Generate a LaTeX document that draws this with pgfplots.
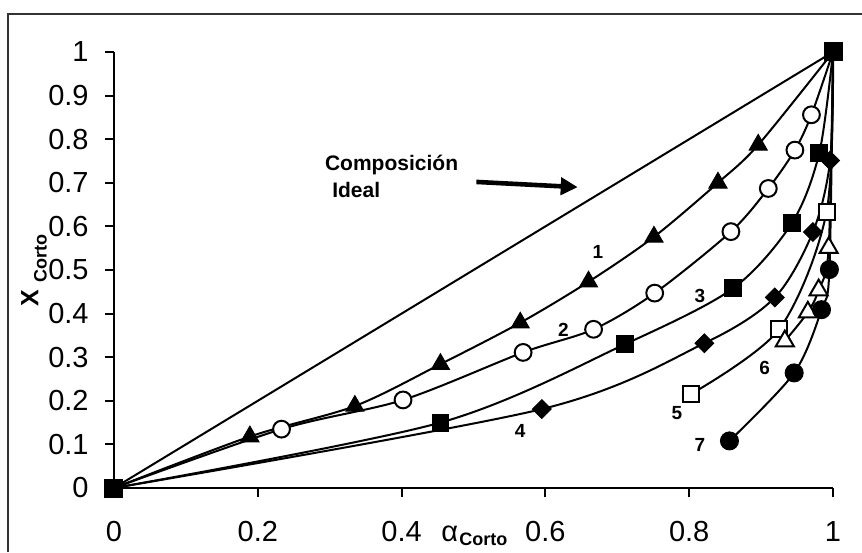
\documentclass[border=0pt]{standalone}
\usepackage{pgfplots}
\pgfplotsset{compat=1.18}
\usepackage{fontspec}
\setmainfont{Liberation Sans}
\usetikzlibrary{arrows.meta}
\begin{document}
\begin{tikzpicture}[x=1pt,y=1pt]
\path[use as bounding box] (0,0) rectangle (431,276);
\draw[line width=0.8pt, black!80] (4,0) -- (4,269) -- (431,269);
\begin{axis}[
  at={(57pt,32pt)}, anchor=south west,
  scale only axis, width=359.5pt, height=218pt,
  xmin=0, xmax=1, ymin=0, ymax=1,
  clip=false,
  axis lines*=left,
  axis line style={line width=1pt, black},
  tick style={line width=1pt, black},
  tick align=outside,
  major tick length=4.5pt,
  xtick={0,0.2,0.4,0.6,0.8,1},
  ytick={0,0.1,0.2,0.3,0.4,0.5,0.6,0.7,0.8,0.9,1},
  /pgf/number format/assume math mode=true,
  /pgf/number format/fixed,
  tick label style={font=\fontsize{14.5}{16}\selectfont},
  yticklabel style={anchor=east, inner sep=0pt, xshift=-8pt},
  xticklabel style={anchor=north, inner sep=0pt, yshift=-12pt},
  every axis plot/.append style={line width=1pt, black, smooth},
]
% Ideal line
\addplot[no markers, sharp plot] coordinates {(0,0)(1,1)};
% 1
\addplot[mark=triangle*, mark size=5.2pt, mark options={fill=black, line width=0.5pt},
  mark indices={2,3,4,5,6,7,8,9}] coordinates {
(0,0)(0.189,0.118)(0.335,0.188)(0.454,0.284)(0.565,0.379)(0.660,0.473)(0.751,0.576)(0.840,0.700)(0.896,0.787)(1,1)};
% 2
\addplot[mark=*, mark size=4.2pt, mark options={fill=white, line width=1pt},
  mark indices={2,3,4,5,6,7,8,9,10}] coordinates {
(0,0)(0.233,0.135)(0.402,0.202)(0.569,0.311)(0.667,0.364)(0.752,0.447)(0.858,0.588)(0.910,0.687)(0.947,0.775)(0.970,0.856)(1,1)};
% 3
\addplot[mark=square*, mark size=4.2pt, mark options={fill=black, line width=0.5pt}] coordinates {
(0,0)(0.454,0.150)(0.711,0.330)(0.861,0.458)(0.943,0.608)(0.981,0.769)(1,1)};
% 4
\addplot[mark=square*, mark size=3.3pt, mark options={fill=black, rotate=45, line width=0.5pt},
  mark indices={2,3,4,5,6}] coordinates {
(0,0)(0.595,0.181)(0.821,0.332)(0.919,0.437)(0.972,0.587)(0.996,0.751)(1,1)};
% 5
\addplot[mark=square*, mark size=4pt, mark options={fill=white, line width=1pt},
  mark indices={1,2,3}] coordinates {
(0.803,0.216)(0.925,0.364)(0.991,0.633)(1,1)};
% 6
\addplot[mark=triangle*, mark size=5.2pt, mark options={fill=white, line width=1pt},
  mark indices={1,2,3,4}] coordinates {
(0.933,0.337)(0.965,0.403)(0.980,0.454)(0.994,0.551)(1,1)};
% 7
\addplot[mark=*, mark size=4.5pt, mark options={fill=black, line width=0.5pt},
  mark indices={1,2,3,4}] coordinates {
(0.856,0.108)(0.946,0.264)(0.984,0.409)(0.995,0.501)(1,1)};
% end markers
\addplot[only marks, mark=square*, mark size=4.5pt, mark options={fill=black, line width=0.5pt}] coordinates {(0,0)(1,1)};
% labels
\node[font=\fontsize{9.5}{11}\selectfont\bfseries] at (axis cs:0.673,0.541) {1};
\node[font=\fontsize{9.5}{11}\selectfont\bfseries] at (axis cs:0.625,0.362) {2};
\node[font=\fontsize{9.5}{11}\selectfont\bfseries] at (axis cs:0.815,0.440) {3};
\node[font=\fontsize{9.5}{11}\selectfont\bfseries] at (axis cs:0.565,0.131) {4};
\node[font=\fontsize{9.5}{11}\selectfont\bfseries] at (axis cs:0.783,0.172) {5};
\node[font=\fontsize{9.5}{11}\selectfont\bfseries] at (axis cs:0.905,0.275) {6};
\node[font=\fontsize{9.5}{11}\selectfont\bfseries] at (axis cs:0.815,0.099) {7};
\node[font=\fontsize{10.5}{12}\selectfont\bfseries, anchor=west, inner sep=0pt] at (axis cs:0.293,0.741) {Composición};
\node[font=\fontsize{10.5}{12}\selectfont\bfseries, anchor=west, inner sep=0pt] at (axis cs:0.303,0.683) {Ideal};
\draw[line width=2.3pt, -{Triangle[length=8.5pt,width=8.5pt]}] (axis cs:0.504,0.702) -- (axis cs:0.645,0.690);
\end{axis}
% axis labels
\node[anchor=base west, inner sep=0pt, font=\fontsize{14.5}{16}\selectfont] at (220.5,5.5) {α};
\node[anchor=base west, inner sep=0pt, font=\fontsize{9}{10}\selectfont\bfseries] at (229.5,3.5) {Corto};
\node[anchor=base west, inner sep=0pt, rotate=90, font=\fontsize{12.5}{14}\selectfont\bfseries] at (19.2,122.7) {X};
\node[anchor=base west, inner sep=0pt, rotate=90, font=\fontsize{9}{10}\selectfont\bfseries] at (23.3,134.5) {Corto};
\end{tikzpicture}
\end{document}
